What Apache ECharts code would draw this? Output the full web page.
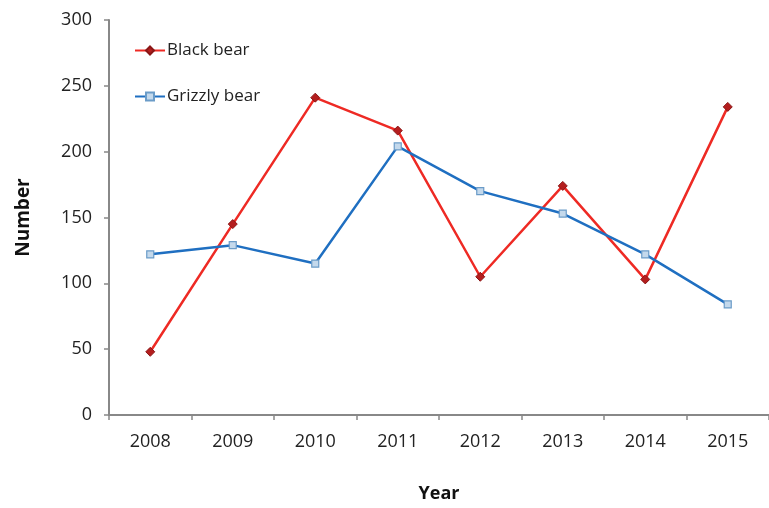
<!DOCTYPE html>
<html>
<head>
<meta charset="utf-8">
<script src="https://cdn.jsdelivr.net/npm/echarts@6/dist/echarts.min.js"></script>
<style>
  html, body { margin: 0; padding: 0; background: #fff; }
  #chart { width: 769px; height: 508px; }
</style>
</head>
<body>
<div id="chart"></div>
<script>
// Annual bear counts
const years = ['2008', '2009', '2010', '2011', '2012', '2013', '2014', '2015'];
const blackBear = [48, 145, 241, 216, 105, 174, 103, 234];
const grizzlyBear = [122, 129, 115, 204, 170, 153, 122, 84];
const yTicks = { min: 0, max: 300, interval: 50 };

const font = 'Open Sans, Noto Sans, sans-serif';
const chart = echarts.init(document.getElementById('chart'), null, { renderer: 'canvas' });

chart.setOption({
  animation: false,
  backgroundColor: '#ffffff',
  grid: { left: 109, right: -5, top: 20, bottom: 83, containLabel: false },
  legend: {
    orient: 'vertical',
    left: 129,
    top: 37,
    itemGap: 29,
    itemWidth: 30,
    itemHeight: 10,
    textStyle: { fontFamily: font, fontSize: 17, color: '#222', padding: [0, 0, 0, -3] },
    data: ['Black bear', 'Grizzly bear']
  },
  xAxis: {
    type: 'category',
    data: years,
    boundaryGap: true,
    name: 'Year',
    nameLocation: 'middle',
    nameGap: 70,
    nameTextStyle: { fontFamily: font, fontSize: 18, fontWeight: 'bold', color: '#111' },
    axisLine: { lineStyle: { color: '#888', width: 2 } },
    axisTick: { show: true, inside: false, length: 5, lineStyle: { color: '#888', width: 1.5 } },
    axisLabel: { fontFamily: font, fontSize: 18, color: '#222', margin: 18 },
    splitLine: { show: false }
  },
  yAxis: {
    type: 'value',
    min: yTicks.min,
    max: yTicks.max,
    interval: yTicks.interval,
    name: 'Number',
    nameLocation: 'middle',
    nameGap: 76,
    nameRotate: 90,
    nameTextStyle: { fontFamily: font, fontSize: 19, fontWeight: 'bold', color: '#111' },
    axisLine: { show: true, lineStyle: { color: '#888', width: 2 } },
    axisTick: { show: true, inside: false, length: 5, lineStyle: { color: '#888', width: 1.5 } },
    axisLabel: { fontFamily: font, fontSize: 18, color: '#222', margin: 17 },
    splitLine: { show: false }
  },
  series: [
    {
      name: 'Black bear',
      type: 'line',
      data: blackBear,
      symbol: 'diamond',
      symbolSize: 9,
      lineStyle: { color: '#ee2a24', width: 2.5 },
      itemStyle: { color: '#b41e1e', borderColor: '#8a1616', borderWidth: 1 },
      z: 2
    },
    {
      name: 'Grizzly bear',
      type: 'line',
      data: grizzlyBear,
      symbol: 'rect',
      symbolSize: 7,
      lineStyle: { color: '#1f6fc1', width: 2.5 },
      itemStyle: { color: '#c4d9ec', borderColor: '#6b9cc8', borderWidth: 1.2 },
      z: 3
    }
  ]
});
</script>
</body>
</html>
